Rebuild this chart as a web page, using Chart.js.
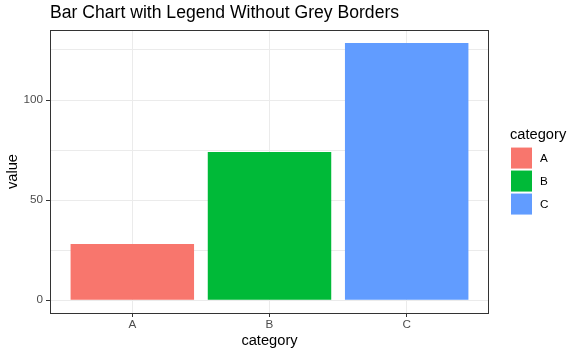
<!DOCTYPE html>
<html lang="en">
<head>
    <meta charset="UTF-8" />
    <title>Bar Chart with Legend Without Grey Borders</title>
    <script src="https://cdn.jsdelivr.net/npm/chart.js"></script>
    <style>
        html, body { margin: 0; padding: 0; background: #fff; }
        #grafico { width: 581px; height: 355px; position: relative; }
    </style>
</head>
<body>
    <div id="grafico">
        <canvas id="myChartCanvas"></canvas>
    </div>

<script>
    // dados
    const categorias = ['A', 'B', 'C'];
    const valores = [28, 74, 128.5];
    const cores = ['#F8766D', '#00BA38', '#619CFF'];
    const ticksY = [0, 25, 50, 75, 100, 125];
    const ticksYRotulados = [0, 50, 100];

    const fonte = "'Liberation Sans', Arial, sans-serif";
    const maxValor = Math.max(...valores);

    // borda do painel (estilo theme_bw)
    const bordaPainel = {
        id: 'bordaPainel',
        afterDraw(chart) {
            const a = chart.chartArea;
            const ctx = chart.ctx;
            ctx.save();
            ctx.strokeStyle = '#333333';
            ctx.lineWidth = 1;
            ctx.strokeRect(Math.round(a.left) + 0.5, Math.round(a.top) + 0.5,
                Math.round(a.right - a.left) - 1, Math.round(a.bottom - a.top));
            ctx.restore();
        }
    };

    // legenda do lado direito, como no ggplot
    const legendaLateral = {
        id: 'legendaLateral',
        afterDraw(chart) {
            const a = chart.chartArea;
            const ctx = chart.ctx;
            const x = a.right + 22;
            const meio = (a.top + a.bottom) / 2;
            const tamanho = 21;
            const passo = 23;
            let y = meio - 24;
            ctx.save();
            ctx.fillStyle = '#000';
            ctx.font = '14.67px ' + fonte;
            ctx.textBaseline = 'middle';
            ctx.textAlign = 'left';
            ctx.fillText('category', x - 1, y - 13);
            ctx.font = '11.7px ' + fonte;
            for (let i = 0; i < categorias.length; i++) {
                ctx.fillStyle = cores[i];
                ctx.fillRect(x, y, tamanho, tamanho);
                ctx.fillStyle = '#000';
                ctx.fillText(categorias[i], x + tamanho + 8, y + tamanho / 2 + 0.5);
                y += passo;
            }
            ctx.restore();
        }
    };

    const dados = {
        datasets: [{
            label: 'value',
            data: categorias.map((c, i) => ({ x: i + 1, y: valores[i] })),
            backgroundColor: cores,
            borderWidth: 0,
            barPercentage: 0.9,
            categoryPercentage: 1
        }]
    };

    const config = {
        type: 'bar',
        data: dados,
        options: {
            responsive: false,
            animation: false,
            layout: { padding: { top: 0, left: 4, right: 92, bottom: 5 } },
            plugins: {
                legend: { display: false },
                tooltip: { enabled: false },
                title: {
                    display: true,
                    text: 'Bar Chart with Legend Without Grey Borders',
                    align: 'start',
                    fullSize: false,
                    color: '#000',
                    font: { family: fonte, size: 17.6, weight: 'normal' },
                    padding: { top: 3, bottom: 6 }
                }
            },
            scales: {
                x: {
                    type: 'linear',
                    min: 0.4,
                    max: 3.6,
                    offset: false,
                    afterBuildTicks: (scale) => { scale.ticks = categorias.map((c, i) => ({ value: i + 1 })); },
                    afterFit: (scale) => { scale.height = 37; },
                    border: { display: false },
                    grid: { offset: false, color: '#EBEBEB', lineWidth: 1, tickColor: '#333333', tickLength: 4 },
                    ticks: {
                        color: '#4D4D4D',
                        font: { family: fonte, size: 11.7 },
                        padding: 1,
                        maxRotation: 0,
                        callback: (v) => categorias[v - 1]
                    },
                    title: {
                        display: true,
                        text: 'category',
                        color: '#000',
                        font: { family: fonte, size: 14.67 },
                        padding: 0
                    }
                },
                y: {
                    min: -0.05 * maxValor,
                    max: 1.05 * maxValor,
                    afterBuildTicks: (scale) => { scale.ticks = ticksY.map(v => ({ value: v })); },
                    afterFit: (scale) => { scale.width = 46; },
                    border: { display: false },
                    grid: {
                        color: '#EBEBEB',
                        lineWidth: 1,
                        tickLength: 4,
                        tickColor: (ctx) => ticksYRotulados.includes(ctx.tick && ctx.tick.value) ? '#333333' : 'rgba(0,0,0,0)'
                    },
                    ticks: {
                        color: '#4D4D4D',
                        font: { family: fonte, size: 11.7 },
                        padding: 3,
                        callback: (v) => ticksYRotulados.includes(v) ? String(v) : ''
                    },
                    title: {
                        display: true,
                        text: 'value',
                        color: '#000',
                        font: { family: fonte, size: 14.67 },
                        padding: 0
                    }
                }
            }
        },
        plugins: [bordaPainel, legendaLateral]
    };

    const canvas = document.getElementById('myChartCanvas');
    canvas.width = 581;
    canvas.height = 355;
    new Chart(canvas, config);
</script>
</body>
</html>
